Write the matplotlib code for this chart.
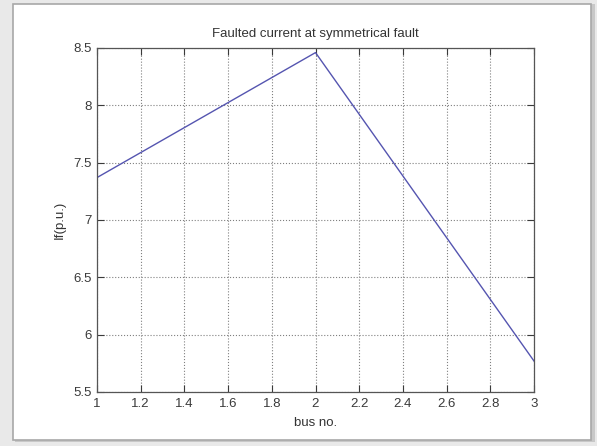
import matplotlib
matplotlib.use("Agg")
import matplotlib.pyplot as plt
from matplotlib.patches import Rectangle

bus = [1, 2, 3]
fault_current = [7.37, 8.46, 5.77]
x_ticks = [1, 1.2, 1.4, 1.6, 1.8, 2, 2.2, 2.4, 2.6, 2.8, 3]
y_ticks = [5.5, 6, 6.5, 7, 7.5, 8, 8.5]


def main():
    plt.rcParams['font.family'] = ['Liberation Sans', 'DejaVu Sans']
    fig = plt.figure(figsize=(5.97, 4.46), dpi=100)
    fig.patch.set_facecolor('#e9e9e9')

    # white panel with a grey border, like the screenshot frame
    fig.patches.append(Rectangle((15 / 597, 4 / 446), 580 / 597, 438 / 446,
                                 transform=fig.transFigure, facecolor='#c8c8c8',
                                 edgecolor='none', zorder=-10))
    fig.patches.append(Rectangle((13 / 597, 6 / 446), 578 / 597, 436 / 446,
                                 transform=fig.transFigure, facecolor='white',
                                 edgecolor='#a8a8a8', linewidth=1.2, zorder=-9))

    ax = fig.add_axes([97 / 597, 54 / 446, 437 / 597, 344 / 446])
    ax.set_zorder(5)
    ax.plot(bus, fault_current, color='#5555b0', linewidth=1.0)
    ax.set_xlim(1, 3)
    ax.set_ylim(5.5, 8.5)
    ax.set_xticks(x_ticks)
    ax.set_xticklabels([f"{t:g}" for t in x_ticks])
    ax.set_yticks(y_ticks)
    ax.set_yticklabels([f"{t:g}" for t in y_ticks])
    ax.grid(True, linestyle=':', color='#808080', linewidth=0.8)
    ax.tick_params(direction='in', top=True, right=True, labelsize=9.5,
                   colors='#3a3a3a', length=5, width=0.8, pad=4)
    for spine in ax.spines.values():
        spine.set_color('#555555')
        spine.set_linewidth(0.9)
    ax.set_title("Faulted current at symmetrical fault", fontsize=9.5,
                 color='#333333', pad=8)
    ax.set_xlabel("bus no.", fontsize=9.5, color='#333333', labelpad=5)
    ax.set_ylabel("If(p.u.)", fontsize=9.5, color='#333333', labelpad=5)
    fig.savefig("out.png", dpi=100, facecolor=fig.get_facecolor())


if __name__ == "__main__":
    main()
